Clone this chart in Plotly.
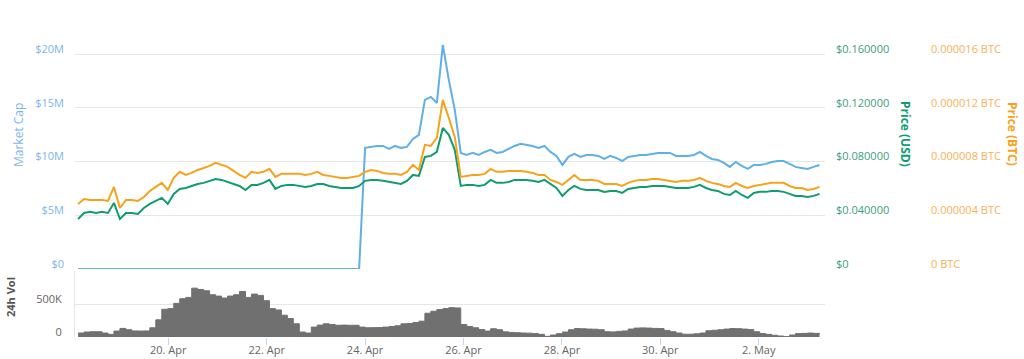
import pandas as pd
import plotly.graph_objects as go

# ---- time grid (regular sampling, every 175 minutes) ----
start = "2018-04-18 04:00"
step = "175min"
n_points = 125
times = pd.date_range(start, periods=n_points, freq=step)

# ---- market cap (USD millions) ----
market_cap_m = [0.0] * 48 + [
    11.27, 11.36, 11.45, 11.45, 11.17, 11.45, 11.27, 11.36, 12.10, 12.48,
    15.73, 16.01, 15.45, 20.85, 17.60, 14.80, 10.80, 10.61, 10.80, 10.61,
    10.89, 11.08, 10.80, 10.89, 11.17, 11.45, 11.64, 11.54, 11.45, 11.27,
    11.45, 10.89, 10.52, 9.68, 10.43, 10.71, 10.43, 10.61, 10.61, 10.52,
    10.24, 10.52, 10.33, 10.05, 10.43, 10.52, 10.61, 10.61, 10.71, 10.80,
    10.80, 10.80, 10.52, 10.52, 10.52, 10.61, 10.89, 10.52, 10.24, 10.15,
    9.87, 9.50, 9.96, 9.59, 9.31, 9.68, 9.68, 9.78, 9.96, 10.05,
    10.05, 9.78, 9.50, 9.40, 9.31, 9.50, 9.68,
]

# ---- price in USD ----
price_usd = [
    0.0372, 0.0417, 0.0425, 0.0417, 0.0425, 0.0417, 0.0492, 0.0372, 0.0417, 0.0417,
    0.0410, 0.0454, 0.0484, 0.0507, 0.0529, 0.0484, 0.0559, 0.0596, 0.0603, 0.0618,
    0.0633, 0.0641, 0.0656, 0.0670, 0.0663, 0.0648, 0.0633, 0.0618, 0.0588, 0.0626,
    0.0626, 0.0641, 0.0663, 0.0596, 0.0618, 0.0626, 0.0626, 0.0618, 0.0611, 0.0618,
    0.0633, 0.0633, 0.0618, 0.0611, 0.0603, 0.0603, 0.0603, 0.0618, 0.0656, 0.0663,
    0.0663, 0.0656, 0.0648, 0.0641, 0.0633, 0.0656, 0.0700, 0.0693, 0.0834, 0.0842,
    0.0872, 0.1050, 0.0998, 0.0887, 0.0618, 0.0626, 0.0626, 0.0618, 0.0626, 0.0663,
    0.0641, 0.0641, 0.0648, 0.0663, 0.0663, 0.0663, 0.0656, 0.0648, 0.0663, 0.0633,
    0.0603, 0.0544, 0.0588, 0.0618, 0.0596, 0.0588, 0.0588, 0.0588, 0.0574, 0.0581,
    0.0581, 0.0566, 0.0596, 0.0603, 0.0611, 0.0611, 0.0618, 0.0618, 0.0618, 0.0611,
    0.0603, 0.0603, 0.0603, 0.0611, 0.0626, 0.0603, 0.0588, 0.0581, 0.0559, 0.0551,
    0.0581, 0.0551, 0.0529, 0.0566, 0.0574, 0.0574, 0.0581, 0.0581, 0.0574, 0.0559,
    0.0544, 0.0544, 0.0536, 0.0544, 0.0559,
]

# ---- price in BTC (micro-BTC, i.e. x 0.000001 BTC) ----
price_btc_micro = [
    4.84, 5.21, 5.14, 5.14, 5.14, 5.07, 6.11, 4.54, 5.14, 5.14,
    5.07, 5.36, 5.81, 6.11, 6.41, 5.88, 6.78, 7.23, 7.00, 7.15,
    7.37, 7.52, 7.67, 7.90, 7.75, 7.60, 7.30, 7.00, 6.78, 7.23,
    7.15, 7.23, 7.45, 6.85, 7.08, 7.08, 7.08, 7.08, 7.00, 7.08,
    7.23, 7.00, 6.93, 6.85, 6.78, 6.78, 6.85, 6.93, 7.23, 7.37,
    7.30, 7.15, 7.08, 7.08, 7.00, 7.23, 7.75, 7.37, 9.24, 9.16,
    9.76, 12.59, 11.25, 9.83, 6.85, 6.93, 7.00, 7.00, 7.08, 7.45,
    7.23, 7.23, 7.30, 7.30, 7.30, 7.23, 7.15, 7.00, 7.00, 6.63,
    6.48, 6.26, 6.63, 7.00, 6.63, 6.63, 6.63, 6.56, 6.33, 6.33,
    6.33, 6.18, 6.41, 6.56, 6.63, 6.63, 6.70, 6.70, 6.63, 6.56,
    6.48, 6.56, 6.56, 6.63, 6.78, 6.56, 6.41, 6.33, 6.18, 6.11,
    6.41, 6.18, 6.03, 6.18, 6.26, 6.33, 6.41, 6.41, 6.41, 6.18,
    6.03, 6.03, 5.88, 5.96, 6.11,
]

# ---- 24h volume (thousands USD) ----
volume_k = [
    60, 75, 80, 80, 60, 40, 90, 130, 110, 92,
    90, 92, 140, 260, 420, 430, 510, 580, 600, 740,
    720, 700, 640, 620, 590, 620, 640, 690, 600, 650,
    630, 550, 430, 410, 330, 280, 200, 75, 60, 150,
    180, 200, 190, 178, 180, 178, 178, 150, 140, 142,
    143, 150, 160, 170, 200, 205, 220, 240, 360, 390,
    415, 430, 445, 440, 190, 160, 140, 112, 90, 125,
    110, 78, 70, 65, 60, 58, 52, 40, 10, 30,
    50, 75, 110, 128, 125, 120, 118, 110, 80, 77,
    85, 92, 120, 135, 138, 135, 130, 128, 100, 80,
    60, 42, 42, 48, 60, 95, 102, 110, 120, 128,
    126, 120, 112, 80, 52, 40, 26, 15, 6, 30,
    52, 55, 60, 55, 42,
]

# ---- axis ticks ----
mcap_ticks = [0, 5, 10, 15, 20]
mcap_labels = ["$0", "$5M", "$10M", "$15M", "$20M"]
usd_ticks = [0, 0.04, 0.08, 0.12, 0.16]
usd_labels = ["$0", "$0.040000", "$0.080000", "$0.120000", "$0.160000"]
btc_ticks = [0, 4, 8, 12, 16]
btc_labels = ["0 BTC", "0.000004 BTC", "0.000008 BTC", "0.000012 BTC", "0.000016 BTC"]
vol_ticks = [0, 500]
vol_labels = ["0", "500K"]

C_MCAP = "#5fb0e6"
C_USD = "#0f9d6e"
C_BTC = "#f7a21b"
C_VOL = "#707070"
FONT = "Open Sans"

fig = go.Figure()
fig.add_trace(go.Scatter(x=times, y=market_cap_m, mode="lines", name="Market Cap",
                         line=dict(color=C_MCAP, width=2), yaxis="y"))
fig.add_trace(go.Scatter(x=times, y=price_usd, mode="lines", name="Price (USD)",
                         line=dict(color=C_USD, width=2), yaxis="y2"))
fig.add_trace(go.Scatter(x=times, y=price_btc_micro, mode="lines", name="Price (BTC)",
                         line=dict(color=C_BTC, width=2), yaxis="y3"))
fig.add_trace(go.Scatter(x=times, y=volume_k, mode="lines", name="24h Vol",
                         line=dict(color=C_VOL, width=1, shape="hv"),
                         fill="tozeroy", fillcolor=C_VOL, yaxis="y4"))

W, H = 1024, 359
ML, MR, MT, MB = 75, 10, 35, 22
PW = W - ML - MR
PH = H - MT - MB
def px_x(x):
    return (x - ML) / PW
def px_y(y):
    return (H - MB - y) / PH

plot_right = 825
main_bottom = 269
vol_top = 271

fig.update_layout(
    width=W, height=H,
    margin=dict(l=ML, r=MR, t=MT, b=MB, autoexpand=False),
    plot_bgcolor="white", paper_bgcolor="white",
    showlegend=False,
    font=dict(family=FONT, size=11, color="#666666"),
    xaxis=dict(
        domain=[0, px_x(plot_right)], anchor="y4", type="date", automargin=False,
        range=["2018-04-18 02:30", "2018-05-03 08:20"],
        tickformat="%-d. %b", dtick=2 * 86400000, tick0="2018-04-20",
        ticks="outside", ticklen=7, tickcolor="#ccd6eb",
        ticklabelstandoff=-4,
        showgrid=False, zeroline=False, showline=False,
        tickfont=dict(size=11, color="#666666"),
    ),
    yaxis=dict(
        domain=[px_y(main_bottom), 1], anchor="x", range=[0, 21.77], automargin=False,
        tickvals=mcap_ticks, ticktext=mcap_labels,
        showgrid=True, gridcolor="#e6e6e6", zeroline=False,
        tickfont=dict(size=11, color="#7cb5ec"),
        ticklabelstandoff=10, ticklabelshift=-5,
    ),
    yaxis2=dict(
        overlaying="y", side="right", anchor="free", position=px_x(plot_right),
        automargin=False,
        range=[0, 0.17414], tickvals=usd_ticks, ticktext=usd_labels,
        showgrid=False, zeroline=False,
        tickfont=dict(size=11, color="#3aa07c"),
        ticklabelstandoff=10, ticklabelshift=-5,
    ),
    yaxis3=dict(
        overlaying="y", side="right", anchor="free", position=px_x(920),
        automargin=False,
        range=[0, 17.414], tickvals=btc_ticks, ticktext=btc_labels,
        showgrid=False, zeroline=False,
        tickfont=dict(size=11, color="#f7b257"),
        ticklabelstandoff=10, ticklabelshift=-5,
    ),
    yaxis4=dict(
        domain=[0, px_y(vol_top)], anchor="x", range=[0, 1000], automargin=False,
        tickvals=vol_ticks, ticktext=vol_labels,
        showgrid=True, gridcolor="#e6e6e6", zeroline=False,
        showline=True, linecolor="#e6e6e6",
        tickfont=dict(size=11, color="#666666"),
        ticklabelstandoff=10, ticklabelshift=-5,
    ),
    annotations=[
        dict(text="Market Cap", x=px_x(18), y=px_y(135), xref="paper", yref="paper",
             textangle=-90, showarrow=False, xanchor="center", yanchor="middle",
             font=dict(family=FONT, size=12, color="#7cb5ec")),
        dict(text="<b>Price (USD)</b>", x=px_x(906), y=px_y(134), xref="paper", yref="paper",
             textangle=90, showarrow=False, xanchor="center", yanchor="middle",
             font=dict(family=FONT, size=12, color="#0f9d6e")),
        dict(text="<b>Price (BTC)</b>", x=px_x(1013), y=px_y(134), xref="paper", yref="paper",
             textangle=90, showarrow=False, xanchor="center", yanchor="middle",
             font=dict(family=FONT, size=12, color="#f7a21b")),
        dict(text="<b>24h Vol</b>", x=px_x(10), y=px_y(297), xref="paper", yref="paper",
             textangle=-90, showarrow=False, xanchor="center", yanchor="middle",
             font=dict(family=FONT, size=11, color="#555555")),
    ],
)

fig.write_html(
    "out.html",
    config={"displayModeBar": False},
    post_script="document.body.style.margin='0';document.body.style.overflow='hidden';",
)
